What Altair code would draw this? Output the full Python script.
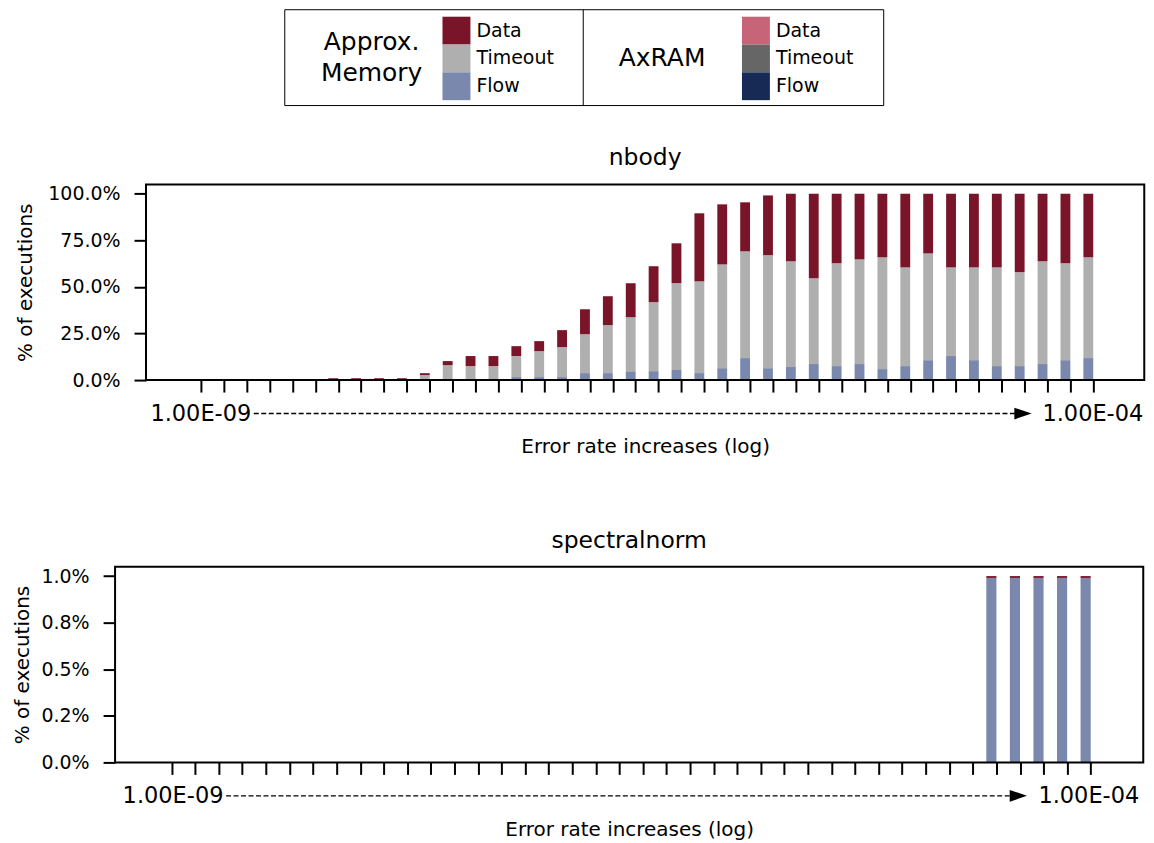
import altair as alt
import pandas as pd

FONT = "DejaVu Sans"

# ---------------- data ----------------
positions = list(range(40))  # 40 error-rate steps, 1.00E-09 ... 1.00E-04 (log)

categories = ["Data", "Timeout", "Flow"]
groups = ["Approx. Memory", "AxRAM"]
group_titles = ["Approx.\nMemory", "AxRAM"]
colors_approx = ["#7a1529", "#afafaf", "#7b88ad"]
colors_axram = ["#c86478", "#666666", "#172a56"]

# nbody (percent of executions), Approx. Memory
nbody_flow = [0, 0, 0, 0, 0, 0, 0, 0, 0, 0, 0, 0, 0, 0,
              1.6, 1.6, 1.6, 3.75, 3.75, 4.8, 4.8, 5.4, 3.75, 6.4, 11.8, 6.4,
              7.0, 8.6, 7.5, 8.6, 5.9, 7.5, 10.7, 12.9, 10.7, 7.5, 7.5, 8.6, 10.7, 11.8]
nbody_timeout = [0, 0, 0, 0, 0, 0, 0, 0, 0, 0,
                 2.7, 8.0, 7.5, 7.5, 11.3, 13.9, 16.1, 20.85, 25.75, 28.95,
                 37.0, 46.6, 49.25, 55.7, 57.3, 60.6, 56.75, 46.0, 55.2, 56.2,
                 60.0, 53.0, 57.3, 47.6, 49.8, 53.0, 50.4, 55.15, 52.0, 54.1]
nbody_data = [0, 0, 0, 0, 0, 0, 1.0, 1.0, 1.0, 1.0,
              1.0, 2.2, 5.4, 5.4, 5.3, 5.4, 9.1, 13.4, 15.5, 18.25,
              19.3, 21.4, 36.5, 32.2, 26.3, 32.1, 36.25, 45.4, 37.3, 35.2,
              34.1, 39.5, 32.0, 39.5, 39.5, 39.5, 42.1, 36.25, 37.3, 34.1]

# spectralnorm (percent of executions), Approx. Memory
spec_flow = [0, 0, 0, 0, 0, 0, 0, 0, 0, 0, 0, 0, 0, 0, 0, 0, 0, 0, 0, 0,
             0, 0, 0, 0, 0, 0, 0, 0, 0, 0, 0, 0, 0, 0, 0, 0.99, 0.99, 0.99, 0.99, 0.99]
spec_timeout = [0, 0, 0, 0, 0, 0, 0, 0, 0, 0, 0, 0, 0, 0, 0, 0, 0, 0, 0, 0,
                0, 0, 0, 0, 0, 0, 0, 0, 0, 0, 0, 0, 0, 0, 0, 0, 0, 0, 0, 0]
spec_data = [0, 0, 0, 0, 0, 0, 0, 0, 0, 0, 0, 0, 0, 0, 0, 0, 0, 0, 0, 0,
             0, 0, 0, 0, 0, 0, 0, 0, 0, 0, 0, 0, 0, 0, 0, 0.01, 0.01, 0.01, 0.01, 0.01]

nbody_yticks = [0, 25, 50, 75, 100]
nbody_ylabels = ["0.0%", "25.0%", "50.0%", "75.0%", "100.0%"]
spec_yticks = [0, 0.25, 0.5, 0.75, 1.0]
spec_ylabels = ["0.0%", "0.2%", "0.5%", "0.8%", "1.0%"]

range_labels = ["1.00E-09", "1.00E-04"]
x_title = "Error rate increases (log)"
y_title = "% of executions"

# ---------------- style ----------------
KEYS = [f"{g}|{c}" for g in groups for c in categories]
KEY_COLORS = colors_approx + colors_axram
XDOM = [-2.4, 41.23]
BAR_W = 0.43
# annotation arrow (in x-axis units)
ARROW = {"t0": 2.2, "l0": 2.31, "l1": 35.6, "tip": 35.93, "t1": 36.78}


def label_expr(vals, labels):
    arr_v = "[" + ",".join(repr(v) for v in vals) + "]"
    arr_l = "[" + ",".join("'" + s + "'" for s in labels) + "]"
    return f"{arr_l}[indexof({arr_v}, datum.value)]"


def panel(title, flow, timeout, data, ymax, yticks, ylabels, W, H, tpad, shift):
    """W = visible plot width; shift = px of empty space left of the plot box."""
    ppu = W / (XDOM[1] - XDOM[0])
    xdom = [XDOM[0] - shift / ppu, XDOM[1]]
    GW = W + shift
    x_scale = alt.Scale(domain=xdom, nice=False, zero=False)
    x_axis = alt.Axis(values=positions, labels=False, ticks=True, tickSize=12,
                      tickWidth=2, tickColor="black", domain=False, grid=False,
                      title=x_title, titleFont=FONT, titleFontSize=20,
                      titleFontWeight="normal", titleColor="black", titlePadding=44,
                      titleX=shift + W / 2, titleAlign="center")

    rows = []
    for i, p in enumerate(positions):
        for order, (cat, vals) in enumerate(
                [("Flow", flow), ("Timeout", timeout), ("Data", data)]):
            rows.append({"pos": p, "cat": cat, "order": order,
                         "key": f"Approx. Memory|{cat}", "value": vals[i]})
    df = pd.DataFrame(rows)

    bars = alt.Chart(df).transform_stack(
        stack="value", groupby=["pos"], as_=["y0", "y1"],
        sort=[alt.SortField(field="order", order="ascending")]
    ).transform_calculate(
        x0=f"datum.pos - {BAR_W}"
    ).mark_rect().encode(
        x=alt.X("x0:Q", scale=x_scale, axis=x_axis),
        x2="pos:Q",
        y=alt.Y("y0:Q", scale=alt.Scale(domain=[0, ymax], nice=False, zero=True),
                axis=alt.Axis(values=yticks, labelExpr=label_expr(yticks, ylabels),
                              labelFont=FONT, labelFontSize=19, labelColor="black",
                              labelPadding=14, tickSize=12, tickWidth=2,
                              tickColor="black", domain=False, grid=False,
                              offset=-shift,
                              title=y_title, titleFont=FONT, titleFontSize=20,
                              titleFontWeight="normal", titleColor="black",
                              titlePadding=tpad)),
        y2="y1:Q",
        color=alt.Color("key:N", scale=alt.Scale(domain=KEYS, range=KEY_COLORS),
                        legend=None),
    )

    one = pd.DataFrame({"a": [0]})
    frame = alt.Chart(one).mark_rect(fillOpacity=0, stroke="black", strokeWidth=2).encode(
        x=alt.value(shift), x2=alt.value(GW), y=alt.value(0), y2=alt.value(H))

    ann = pd.DataFrame([{**ARROW, "lab0": range_labels[0], "lab1": range_labels[1]}])
    dashed = alt.Chart(ann).mark_rule(color="black", strokeWidth=1.3,
                                       strokeDash=[5, 2.5]).encode(
        x=alt.X("l0:Q", scale=x_scale, axis=x_axis), x2="l1:Q", y=alt.value(H + 33.5))
    arrow = alt.Chart(ann).mark_point(
        shape="M-1,-0.68L1,0L-1,0.68Z", filled=True, size=300, color="black",
        opacity=1).encode(x=alt.X("tip:Q", scale=x_scale, axis=x_axis),
                          y=alt.value(H + 33.5))
    left_txt = alt.Chart(ann).mark_text(
        align="right", baseline="alphabetic", font=FONT, fontSize=22.5,
        color="black").encode(x=alt.X("t0:Q", scale=x_scale, axis=x_axis),
                              y=alt.value(H + 41), text="lab0:N")
    right_txt = alt.Chart(ann).mark_text(
        align="left", baseline="alphabetic", font=FONT, fontSize=22.5,
        color="black").encode(x=alt.X("t1:Q", scale=x_scale, axis=x_axis),
                              y=alt.value(H + 41), text="lab1:N")
    ttl = alt.Chart(pd.DataFrame({"t": [title]})).mark_text(
        align="center", baseline="alphabetic", font=FONT, fontSize=23.5,
        color="black").encode(x=alt.value(shift + W / 2), y=alt.value(-19), text="t:N")

    return alt.layer(bars, frame, dashed, arrow, left_txt, right_txt, ttl).properties(
        width=GW, height=H,
        view={"stroke": "transparent"},
    )


nbody = panel("nbody", nbody_flow, nbody_timeout, nbody_data, 105,
              nbody_yticks, nbody_ylabels, 1000, 196, 12, 31)
spec = panel("spectralnorm", spec_flow, spec_timeout, spec_data, 1.05,
             spec_yticks, spec_ylabels, 1030, 196, 8, 0)

# ---------------- legend box ----------------
leg_rows = []
for g in groups:
    for c in categories:
        leg_rows.append({"group": g, "cat": c, "key": f"{g}|{c}"})
leg_df = pd.DataFrame(leg_rows)
one = pd.DataFrame({"a": [0]})

ysc = alt.Scale(domain=categories, range=[7, 90.6], paddingInner=0, paddingOuter=0)
csc = alt.Scale(domain=KEYS, range=KEY_COLORS)

box = alt.Chart(one).mark_rect(fillOpacity=0, stroke="black", strokeWidth=1).encode(
    x=alt.value(10), x2=alt.value(610), y=alt.value(0), y2=alt.value(96))
divider = alt.Chart(one).mark_rule(color="black", strokeWidth=1).encode(
    x=alt.value(309), y=alt.value(0), y2=alt.value(96))

leg_layers = [box, divider]
for gi, (g, gt, sx, tx) in enumerate(zip(groups, group_titles, [168, 468], [97, 388])):
    sub = leg_df[leg_df.group == g]
    leg_layers.append(alt.Chart(sub).mark_rect().encode(
        x=alt.value(sx), x2=alt.value(sx + 28),
        y=alt.Y("cat:N", scale=ysc, axis=None),
        color=alt.Color("key:N", scale=csc, legend=None)))
    leg_layers.append(alt.Chart(sub).mark_text(
        align="left", baseline="middle", font=FONT, fontSize=19, color="black").encode(
        x=alt.value(sx + 34), y=alt.Y("cat:N", scale=ysc, axis=None), text="cat:N"))
    n_lines = gt.count("\n") + 1
    leg_layers.append(alt.Chart(one).mark_text(
        align="center", baseline="middle", font=FONT, fontSize=25, color="black",
        lineBreak="\n", lineHeight=31).encode(
        x=alt.value(tx), y=alt.value(48 - (n_lines - 1) * 15.5), text=alt.value(gt)))

# extra blank room on the right so that the centred legend box sits where the
# reference draws it
legend = alt.layer(*leg_layers).properties(
    width=712, height=96, view={"stroke": "transparent"})

inner = alt.vconcat(nbody, spec, spacing=70)
chart = alt.vconcat(legend, inner, spacing=39, center=True).configure(
    font=FONT, padding={"left": 4, "top": 0, "right": 0, "bottom": 0}
).configure_view(stroke="transparent")

chart.save("out.html", embed_options={"renderer": "svg", "actions": False})
